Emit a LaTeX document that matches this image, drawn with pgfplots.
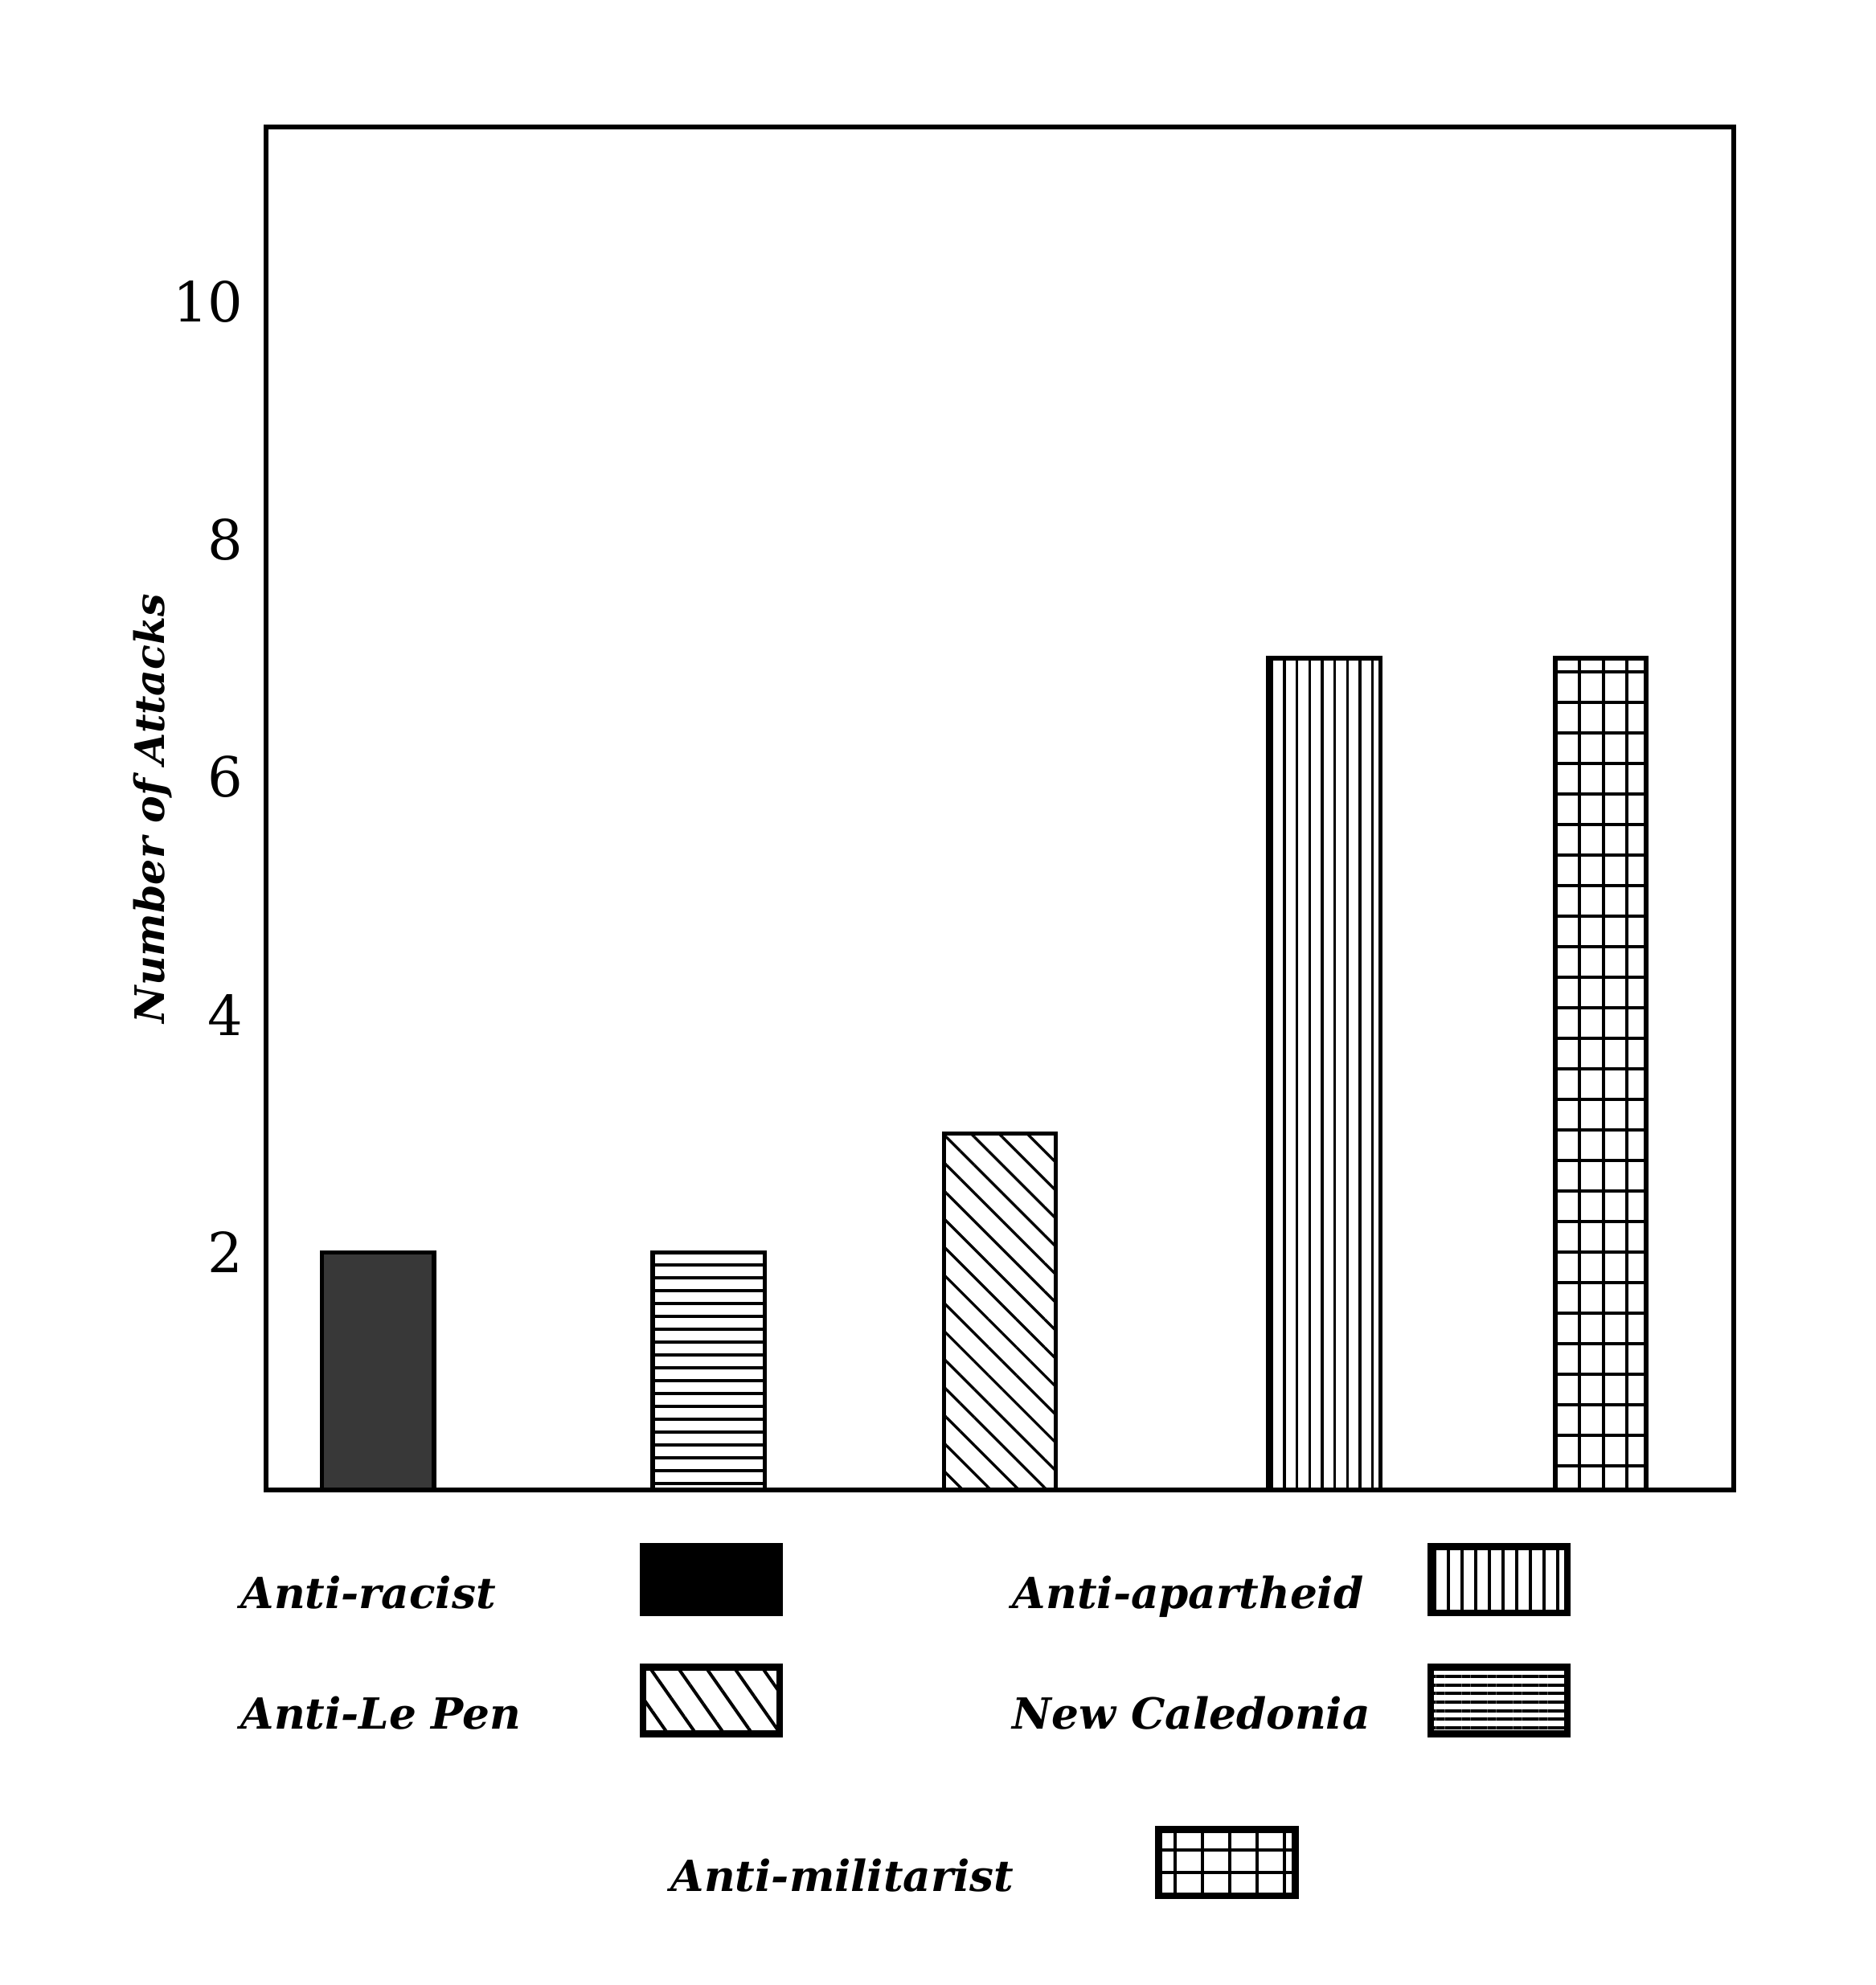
\documentclass[border=0pt]{standalone}
\usepackage{fontspec}
\setmainfont{DejaVu Serif}
\usepackage{pgfplots}
\pgfplotsset{compat=1.18}
\usetikzlibrary{patterns.meta}

\newcommand{\legfont}{\fontsize{8}{10}\selectfont\bfseries\itshape}
% legend box: 25.5pt x 12.4pt, with blank room after it up to the next column
\newcommand{\legbox}[2]{\draw[line width=1.3pt, #1] (0pt,-3.2pt) rectangle (25.5pt,9.2pt); \path[draw=none] (0pt,0pt) (#2,0pt);}

\begin{document}
\begin{tikzpicture}
\path[use as bounding box] (0,0) rectangle (350pt,370.5pt);
\begin{axis}[
  at={(49.6pt,92.4pt)}, anchor=south west,
  scale only axis, width=274pt, height=254.4pt,
  xmin=-0.41, xmax=4.43, ymin=0, ymax=11.47,
  xtick=\empty, ytick={2,4,6,8,10},
  major tick length=0pt,
  axis line style={line width=0.9pt},
  /pgf/number format/assume math mode=true,
  yticklabel style={font=\fontsize{10.3}{12}\selectfont, inner sep=0pt, xshift=-4pt},
  ylabel={Number of Attacks},
  ylabel style={at={(axis description cs:-0.077,0.5)}, anchor=center,
    font=\fontsize{7.6}{9}\selectfont\bfseries\itshape},
  ybar,
  legend plot pos=right,
  legend cell align=left,
  legend columns=2,
  legend style={draw=none, fill=none, inner sep=0pt, outer sep=0pt,
    at={(axis description cs:-0.017,-0.039)}, anchor=north west,
    font=\legfont, nodes={inner sep=0pt}, row sep=9.2pt},
]
% Anti-racist
\addplot[bar width=0.37, bar shift=0pt, draw=black, line width=0.8pt, fill=black!78,
  legend image code/.code={\legbox{fill=black}{69pt}}]
  coordinates {(-0.04,2)};
\addlegendentry{\makebox[74.4pt][l]{Anti-racist}}
% Anti-apartheid
\addplot[bar width=0.37, bar shift=0pt, draw=black, line width=0.8pt,
  pattern={Lines[angle=90,distance=2.35pt,line width=0.5pt]},
  legend image code/.code={\legbox{pattern={Lines[angle=90,distance=2.55pt,line width=0.6pt]}}{25.5pt}}]
  coordinates {(3.08,7)};
\addlegendentry{\makebox[77.7pt][l]{Anti-apartheid}}
% Anti-Le Pen
\addplot[bar width=0.37, bar shift=0pt, draw=black, line width=0.8pt,
  pattern={Lines[angle=-45,distance=3.7pt,line width=0.5pt]},
  legend image code/.code={\legbox{pattern={Lines[angle=-55,distance=4.3pt,line width=0.6pt]}}{69pt}}]
  coordinates {(2.01,3)};
\addlegendentry{\makebox[74.4pt][l]{Anti-Le Pen}}
% New Caledonia
\addplot[bar width=0.37, bar shift=0pt, draw=black, line width=0.8pt,
  pattern={Lines[angle=0,distance=2.4pt,line width=0.5pt]},
  legend image code/.code={\legbox{pattern={Lines[angle=0,distance=1.6pt,line width=0.6pt]}}{25.5pt}}]
  coordinates {(1.05,2)};
\addlegendentry{\makebox[77.7pt][l]{New Caledonia}}
% Anti-militarist
\addplot[bar width=0.30, bar shift=0pt, draw=black, line width=0.8pt,
  pattern={Lines[angle=90,distance=4.4pt,line width=0.6pt]},
  postaction={pattern={Lines[angle=0,distance=5.7pt,line width=0.6pt]}},
  forget plot]
  coordinates {(3.99,7)};
\end{axis}
\begin{axis}[
  at={(49.6pt,92.4pt)}, anchor=south west,
  scale only axis, width=274pt, height=254.4pt,
  xmin=-0.41, xmax=4.43, ymin=0, ymax=11.47,
  hide axis,
  legend plot pos=right,
  legend cell align=left,
  legend style={draw=none, fill=none, inner sep=0pt, outer sep=0pt,
    at={(axis description cs:0.276,-0.2477)}, anchor=north west,
    font=\legfont, nodes={inner sep=0pt}},
]
\addlegendimage{legend image code/.code={\legbox{pattern={Lines[angle=90,distance=5.1pt,line width=0.7pt]}, postaction={pattern={Lines[angle=0,distance=4.2pt,line width=0.7pt]}}}{25.5pt}}}
\addlegendentry{\makebox[90.7pt][l]{Anti-militarist}}
\end{axis}
\end{tikzpicture}
\end{document}
